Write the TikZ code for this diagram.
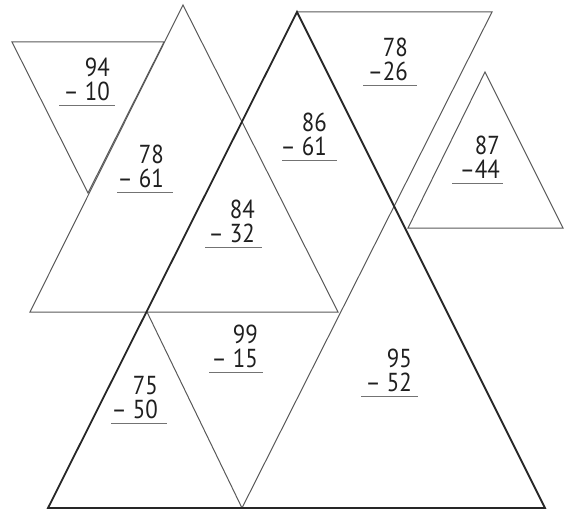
\documentclass[tikz,border=0pt]{standalone}
\usepackage{fontspec}
\newfontfamily\numfont[FakeStretch=0.88]{PT Sans}
\begin{document}
\begin{tikzpicture}[x=1pt,y=-1pt,
  thinline/.style={draw=black!65,line width=1pt,line join=miter},
  thickline/.style={draw=black!85,line width=1.8pt,line join=miter},
  prob/.style={anchor=south east,inner sep=0pt,align=right,
    font=\numfont\fontsize{26}{24}\selectfont,text=black!88},
  uline/.style={draw=black!55,line width=1.6pt}]
\useasboundingbox (0,0) rectangle (566,511);
% vertices
\coordinate (a1) at (12,42); \coordinate (a2) at (164,42); \coordinate (a3) at (88,193);
\coordinate (b1) at (183,5); \coordinate (b2) at (30,312); \coordinate (b3) at (338,312);
\coordinate (c1) at (297,12); \coordinate (c2) at (48,508); \coordinate (c3) at (545,508);
\coordinate (d2) at (492,12); \coordinate (m) at (242,508);
\coordinate (e1) at (147,312);
\coordinate (f1) at (485,72); \coordinate (f2) at (408,228); \coordinate (f3) at (563,228);
% shapes
\draw[thinline] (a1) -- (a2) -- (a3) -- cycle;
\draw[thinline] (b1) -- (b2) -- (b3) -- cycle;
\draw[thinline] (c1) -- (d2) -- (m);
\draw[thinline] (e1) -- (m);
\draw[thinline] (f1) -- (f2) -- (f3) -- cycle;
\draw[thickline] (c1) -- (c2) -- (c3) -- cycle;
% problems
\newcommand\probnode[6]{%
  \node[prob] (#1) at (#2) {#3\\#4};
  \draw[uline] ([yshift=-4.5]#1.south -| #5,0) -- ([yshift=-4.5]#1.south -| #6,0);}
\probnode{p1}{110,101}{94}{– 10}{59}{115}
\probnode{p2}{164,188}{78}{– 61}{117}{173}
\probnode{p3}{255,243}{84}{– 32}{205}{262}
\probnode{p4}{327,156}{86}{– 61}{282}{337}
\probnode{p5}{408,81}{78}{–26}{363}{417}
\probnode{p6}{500,179}{87}{–44}{452}{503}
\probnode{p7}{258,368}{99}{– 15}{209}{263}
\probnode{p8}{158,419}{75}{– 50}{111}{167}
\probnode{p9}{412,392}{95}{– 52}{361}{418}
\end{tikzpicture}
\end{document}
